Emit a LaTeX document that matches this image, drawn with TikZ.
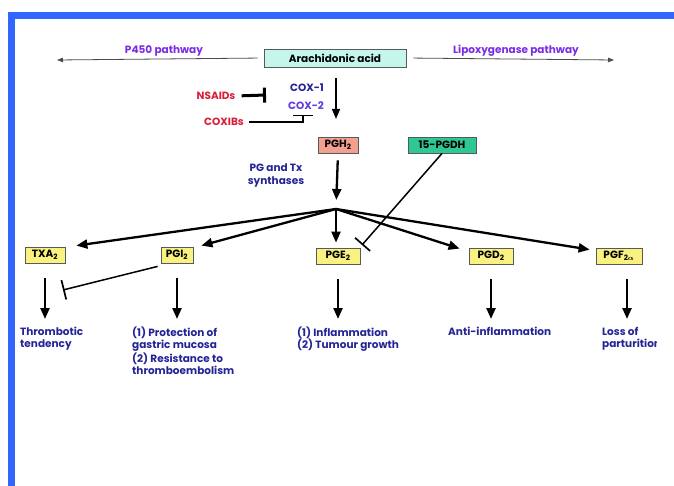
\documentclass[tikz,border=0pt]{standalone}
\usepackage{bm}
\usepackage{fontspec}
\setmainfont{Poppins}
\usetikzlibrary{arrows.meta}
\definecolor{frameblue}{RGB}{51,102,255}
\definecolor{aacyan}{RGB}{196,246,236}
\definecolor{pathviolet}{RGB}{122,44,230}
\definecolor{drugred}{RGB}{214,32,56}
\definecolor{coxnavy}{RGB}{36,36,150}
\definecolor{coxviolet}{RGB}{96,60,220}
\definecolor{pghsalmon}{RGB}{244,160,144}
\definecolor{pgdhgreen}{RGB}{46,200,150}
\definecolor{pgyellow}{RGB}{250,242,128}
\begin{document}
\begin{tikzpicture}[x=1pt,y=-1pt,
  lbl/.style={font=\bfseries\fontsize{10.5}{12}\selectfont, inner sep=0pt},
  box/.style={draw=black!65, line width=0.8pt, font=\bfseries\fontsize{10.5}{12}\selectfont,
    minimum height=16pt, inner sep=1pt},
  pgbox/.style={box, fill=pgyellow},
  effect/.style={font=\bfseries\fontsize{10.5}{12}\selectfont, text=coxnavy, align=left,
    anchor=north west, inner sep=0pt},
  pathline/.style={draw=black!70, line width=0.8pt, -{Triangle[length=6pt,width=4.5pt]}},
  thickarr/.style={line width=2.3pt, -{Triangle[length=11pt,width=9pt]}},
  inhib/.style={line width=1.5pt, -{Bar[width=20pt,line width=1.7pt]}}]
\useasboundingbox (0,0) rectangle (674,486);
\fill[white] (0,0) rectangle (674,486);
\fill[frameblue] (8,12) rectangle (674,19);
\fill[frameblue] (8,12) rectangle (15,486);

\node[box, fill=aacyan, minimum width=142pt, minimum height=18pt] (aa) at (335,58) {Arachidonic acid};
\node[lbl, text=pathviolet] (p450) at (164,51) {P450 pathway};
\node[lbl, text=pathviolet] (lox) at (516,51) {Lipoxygenase pathway};
\coordinate (p450end) at (57,60);
\coordinate (loxend) at (614,60);
\draw[pathline, shorten <=6pt] (aa.west) -- (p450end);
\draw[pathline, shorten <=7pt] (aa.east) -- (loxend);

\node[lbl, text=coxnavy] (cox1) at (307,88) {COX-1};
\node[lbl, text=coxviolet] (cox2) at (306,106) {COX-2};
\node[lbl, text=drugred] (nsaid) at (216,96) {NSAIDs};
\node[lbl, text=drugred] (coxib) at (224,122) {COXIBs};
\coordinate (coxtop) at (336,78);
\coordinate (coxtip) at (336,119);
\draw[line width=1.3pt, -{Triangle[length=10pt,width=8pt]}] (coxtop) -- (coxtip);
\coordinate (nsaidbar) at (266,95);
\draw[line width=3pt, -{Bar[width=15pt,line width=3pt]}, shorten <=6pt] (nsaid.east) -- (nsaidbar);
\coordinate (cox2bar) at (303,115);
\draw[line width=1.3pt, -{Bar[width=20pt,line width=1.3pt]}, shorten <=5pt] (coxib.east) -| (cox2bar);

\node[box, fill=pghsalmon, minimum width=40pt] (pgh) at (338,145) {PGH\textsubscript{2}};
\node[box, fill=pgdhgreen, minimum width=68pt] (pgdh) at (442,145) {15-PGDH};
\node[lbl, text=coxnavy, align=center, font=\bfseries\fontsize{10.5}{13}\selectfont] (synth) at (276,176) {PG and Tx\\synthases};
\coordinate (br) at (336,209);
\draw[thickarr, shorten <=7pt, shorten >=9pt] (pgh.south) -- (br);

\node[pgbox, minimum width=40pt] (txa) at (45,255) {TXA\textsubscript{2}};
\node[pgbox, minimum width=32pt] (pgi) at (177,255) {PGI\textsubscript{2}};
\node[pgbox, minimum width=44pt] (pge) at (338,256) {PGE\textsubscript{2}};
\node[pgbox, minimum width=44pt] (pgd) at (491,256) {PGD\textsubscript{2}};
\node[pgbox, minimum width=46pt] (pgf) at (619,256) {PGF\textsubscript{2$\bm{\alpha}$}};

\draw[thickarr] (br) -- ([xshift=11pt,yshift=1pt]txa.north east);
\draw[thickarr] (br) -- ([xshift=8pt,yshift=1pt]pgi.north east);
\draw[thickarr, shorten >=5pt] (br) -- (br |- pge.north);
\draw[thickarr] (br) -- ([xshift=-9pt,yshift=-1pt]pgd.north west);
\draw[thickarr] (br) -- ([xshift=-6pt,yshift=-2pt]pgf.north west);

\coordinate (pgebar) at (362,245);
\draw[inhib] (pgdh.south) -- (pgebar);

\node[effect] (thromb) at (20,327) {Thrombotic\\tendency};
\node[effect] (protect) at (132,327) {(1) Protection of\\gastric mucosa\\(2) Resistance to\\thromboembolism};
\node[effect] (inflam) at (297,327) {(1) Inflammation\\(2) Tumour growth};
\node[effect] (antiinf) at (448,327) {Anti-inflammation};
\begin{scope}
\clip (0,0) rectangle (656,486);
\node[effect] (loss) at (602,327) {Loss of\\parturition};
\end{scope}

\draw[thickarr, shorten <=15pt, shorten >=8pt] (txa.south) -- (txa.south |- thromb.north);
\draw[thickarr, shorten <=15pt, shorten >=8pt] (pgi.south) -- (pgi.south |- protect.north);
\draw[thickarr, shorten <=15pt, shorten >=8pt] (pge.south) -- (pge.south |- inflam.north);
\draw[thickarr, shorten <=15pt, shorten >=8pt] (pgd.south) -- (pgd.south |- antiinf.north);
\draw[thickarr, shorten <=15pt, shorten >=8pt] ([xshift=8pt]pgf.south) -- ([xshift=8pt]pgf.south |- loss.north);

\coordinate (txabar) at (63,290);
\draw[inhib] ([xshift=-3pt,yshift=-3pt]pgi.south west) -- (txabar);
\end{tikzpicture}
\end{document}
